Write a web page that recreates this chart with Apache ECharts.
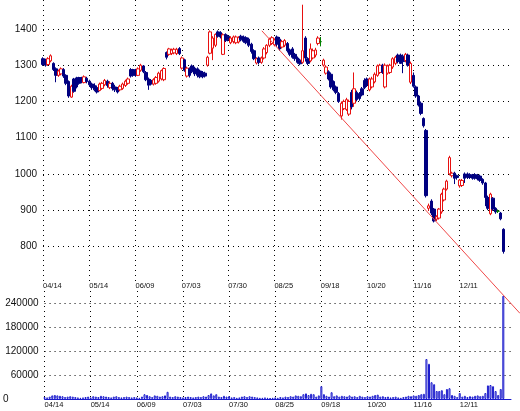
<!DOCTYPE html>
<html><head><meta charset="utf-8">
<script src="https://cdn.jsdelivr.net/npm/echarts@6/dist/echarts.min.js"></script>
<style>html,body{margin:0;padding:0;background:#fff}#c{width:520px;height:411px}</style>
</head><body><div id="c"></div>
<script>
// trading days (2015/04 .. 2016/01)
const tradingDays = [
 ['04',[14,15,16,17,20,21,22,23,24,27,28,30]],
 ['05',[1,7,8,11,12,13,14,15,18,19,20,21,22,25,26,27,28,29]],
 ['06',[1,2,3,4,5,8,9,10,11,12,15,16,17,18,19,22,23,24,25,26,29,30]],
 ['07',[1,2,3,6,7,8,9,10,13,14,15,16,17,21,22,23,24,27,28,29,30,31]],
 ['08',[3,4,5,6,7,10,11,12,13,14,17,18,19,20,21,24,25,26,27,28,31]],
 ['09',[1,2,3,4,7,8,9,10,11,14,15,16,17,18,24,25,28,29,30]],
 ['10',[1,2,5,6,7,8,9,13,14,15,16,19,20,21,22,23,26,27,28,29,30]],
 ['11',[2,4,5,6,9,10,11,12,13,16,17,18,19,20,24,25,26,27,30]],
 ['12',[1,2,3,4,7,8,9,10,11,14,15,16,17,18,21,22,24,25,28,29,30]],
 ['01',[4,5,6,7,8,12,13,14]]
];
const categories = [];
tradingDays.forEach(([m, ds]) => ds.forEach(d => categories.push(m + '/' + String(d).padStart(2,'0'))));

const tickLabels = ['04/14','05/14','06/09','07/03','07/30','08/25','09/18','10/20','11/16','12/11'];
const priceTicks = [800, 900, 1000, 1100, 1200, 1300, 1400];
const volumeTicks = [0, 60000, 120000, 180000, 240000];

const opens = [1318,1312,1302,1312,1305,1290,1272,1276,1288,1272,1255,1212,1262,1265,1266,1266,1252,1264,1256,1248,
1244,1238,1230,1236,1246,1256,1238,1250,1240,1236,1232,1236,1244,1250,1288,1288,1286,1272,1286,1298,
1280,1262,1258,1248,1250,1256,1262,1260,1335,1330,1332,1334,1332,1346,1292,1315,1270,1290,1298,1292,
1290,1284,1280,1278,1300,1333,1347,1355,1392,1390,1330,1385,1380,1362,1365,1362,1364,1380,1378,1376,
1372,1358,1340,1306,1320,1308,1320,1335,1355,1360,1356,1378,1372,1350,1355,1360,1342,1345,1330,1320,
1314,1308,1375,1318,1312,1320,1328,1360,1365,1300,1278,1282,1275,1255,1240,1222,1160,1180,1178,1165,
1225,1195,1225,1222,1235,1258,1262,1232,1240,1254,1272,1280,1300,1240,1278,1280,1295,1305,1328,1328,
1325,1313,1328,1253,1272,1240,1215,1195,1153,1120,905,925,903,875,878,895,928,958,1000,995,
1002,995,967,968,1000,1000,998,996,998,996,994,985,975,935,890,933,905,897,892,847];
const closes = [1302,1300,1318,1326,1288,1272,1284,1290,1270,1250,1215,1242,1228,1240,1250,1256,1268,1255,1246,1238,
1232,1226,1248,1250,1258,1244,1250,1236,1232,1226,1242,1248,1256,1262,1270,1272,1272,1290,1300,1282,
1260,1245,1248,1260,1266,1278,1285,1291,1322,1345,1342,1344,1344,1332,1320,1286,1292,1272,1282,1276,
1272,1268,1268,1270,1322,1392,1375,1385,1380,1378,1384,1368,1370,1375,1378,1378,1376,1370,1366,1362,
1355,1338,1318,1318,1308,1320,1345,1355,1372,1376,1370,1358,1345,1365,1368,1340,1330,1322,1318,1308,
1304,1340,1320,1305,1345,1340,1342,1375,1365,1314,1295,1262,1240,1232,1225,1200,1195,1200,1205,1200,
1185,1235,1205,1208,1218,1238,1245,1262,1262,1275,1298,1300,1280,1300,1298,1300,1318,1322,1310,1305,
1310,1330,1300,1305,1242,1215,1190,1167,1133,940,912,892,870,882,903,944,958,980,1045,1002,
988,990,983,982,988,990,990,988,988,986,982,975,935,905,944,903,895,897,876,786];
const lows = [1298,1296,1298,1308,1284,1253,1268,1272,1265,1245,1210,1210,1224,1236,1246,1250,1250,1250,1240,1232,
1228,1222,1228,1232,1242,1238,1234,1230,1226,1222,1228,1232,1240,1246,1266,1268,1268,1270,1282,1278,
1256,1232,1244,1244,1246,1252,1258,1256,1316,1326,1328,1330,1328,1328,1288,1282,1266,1266,1278,1270,
1266,1264,1264,1266,1296,1330,1314,1350,1376,1374,1328,1364,1366,1358,1360,1358,1360,1366,1362,1358,
1350,1332,1314,1302,1302,1304,1316,1330,1350,1356,1352,1350,1340,1346,1350,1335,1325,1318,1312,1304,
1300,1304,1310,1300,1308,1316,1322,1355,1352,1296,1274,1258,1235,1228,1220,1196,1150,1176,1174,1160,
1178,1185,1200,1202,1214,1234,1240,1228,1236,1250,1268,1276,1276,1236,1274,1276,1290,1300,1305,1305,
1278,1308,1296,1248,1238,1210,1186,1162,1128,935,898,886,866,870,874,890,924,954,996,990,
972,984,962,964,975,986,986,984,984,982,978,970,911,900,886,898,890,892,872,780];
const highs = [1322,1318,1322,1330,1308,1294,1288,1294,1292,1275,1258,1246,1265,1268,1268,1268,1272,1268,1260,1252,
1250,1244,1252,1254,1262,1260,1256,1254,1246,1240,1246,1252,1260,1266,1292,1290,1290,1294,1304,1300,
1284,1266,1262,1264,1270,1282,1288,1294,1338,1348,1346,1348,1348,1350,1324,1318,1296,1294,1302,1296,
1294,1288,1284,1282,1326,1396,1380,1388,1396,1394,1388,1388,1384,1380,1382,1382,1380,1384,1382,1380,
1376,1362,1344,1322,1324,1324,1350,1358,1376,1380,1374,1382,1378,1370,1372,1364,1346,1350,1334,1324,
1318,1467,1380,1322,1360,1346,1348,1380,1378,1318,1300,1286,1280,1258,1244,1226,1200,1205,1210,1205,
1232,1280,1230,1226,1240,1264,1266,1266,1268,1280,1302,1304,1304,1305,1302,1304,1322,1326,1332,1332,
1330,1334,1332,1310,1280,1244,1218,1200,1156,1124,918,930,906,886,906,948,962,984,1050,1006,
1006,998,986,986,1004,1004,1002,1000,1002,1000,998,988,978,940,948,936,908,902,895,850];
const volumes = [5000,4000,6000,9000,10000,9000,8000,7000,5000,6000,
7000,6000,5000,4000,3000,4000,5000,6000,4000,7000,
6000,5000,8000,7000,6000,5000,4000,6000,7000,5000,
4000,5000,6000,5000,4000,5000,4000,3000,6000,12000,
10000,7000,5000,9000,8000,6000,7000,9000,18000,6000,
5000,7000,6000,5000,4000,5000,6000,5000,4000,5000,
6000,5000,7000,6000,10000,14000,9000,12000,6000,5000,
8000,6000,7000,4000,5000,3000,4000,6000,7000,5000,
7000,6000,5000,4000,3000,3000,4000,3000,2000,3000,
4000,3000,5000,4000,6000,5000,7000,6000,9000,8000,
7000,12000,14000,10000,13000,12000,6000,9000,32000,12000,
8000,6000,17000,7000,9000,6000,8000,7000,6000,9000,
6000,7000,5000,8000,6000,5000,7000,6000,8000,10000,
11000,6000,7000,5000,6000,4000,5000,6000,4000,3000,
5000,6000,8000,7000,9000,8000,10000,12000,13000,100000,
88000,42000,37000,20000,20000,22000,12000,25000,27000,10000,
8000,5000,15000,6000,8000,5000,7000,6000,8000,9000,
7000,8000,15000,34000,35000,32000,20000,10000,25000,258000];
// trend line endpoints: [category index, price]
const trendLine = [[85.1, 1395], [185.5, 615]];

const candles = opens.map((o, i) => [o, closes[i], lows[i], highs[i]]);
const dotted = {type: [1, 4], color: '#000', width: 1};
const isTick = (i, v) => tickLabels.indexOf(v) >= 0;
const font = 'Liberation Sans, Arial, sans-serif';

// price scale: 0.3623 px per yen; day step = 468 / 182 px
const pxPerYen = 282.6 / 780;
const dayStep = 468 / (categories.length - 1);

const chart = echarts.init(document.getElementById('c'), null, {renderer: 'canvas'});
chart.setOption({
  animation: false,
  backgroundColor: '#fff',
  grid: [
    {left: 43, right: 9, top: 0, height: 282.6},
    {left: 43, right: 9, top: 291, height: 108},
    {left: 43, right: 0, top: 0, bottom: 0}
  ],
  xAxis: [
    {type: 'category', gridIndex: 0, data: categories, boundaryGap: false,
     axisLine: {show: false}, axisTick: {show: false},
     axisLabel: {interval: isTick, align: 'left', fontSize: 7.5, margin: -1, color: '#111', fontFamily: font},
     splitLine: {show: true, interval: isTick, lineStyle: dotted}},
    {type: 'category', gridIndex: 1, data: categories, boundaryGap: false,
     axisLine: {show: true, lineStyle: {color: '#1a1acc', width: 1}}, axisTick: {show: false},
     axisLabel: {interval: isTick, align: 'left', fontSize: 7.5, margin: 2, color: '#111', fontFamily: font},
     splitLine: {show: true, interval: isTick, lineStyle: dotted}},
    {type: 'value', gridIndex: 2, min: 0, max: 477 / dayStep, show: false}
  ],
  yAxis: [
    {type: 'value', gridIndex: 0, min: 700, max: 1480, interval: 100,
     axisLine: {show: false}, axisTick: {show: false},
     axisLabel: {fontSize: 10, color: '#111', margin: 6, fontFamily: font, showMinLabel: false, showMaxLabel: false,
       formatter: v => priceTicks.indexOf(v) >= 0 ? String(v) : ''},
     splitLine: {show: true, lineStyle: dotted, showMinLine: false, showMaxLine: false}},
    {type: 'value', gridIndex: 1, min: 0, max: 270000, interval: 60000,
     axisLine: {show: false}, axisTick: {show: false},
     axisLabel: {fontSize: 10, color: '#111', margin: 6, fontFamily: font, showMaxLabel: false,
       formatter: v => volumeTicks.indexOf(v) < 0 ? '' : (v === 0 ? '{z|0}' : String(v)),
       rich: {z: {padding: [0, 30, 0, 0], fontSize: 10, color: '#111', fontFamily: font}}},
     splitLine: {show: true, lineStyle: dotted, showMinLine: false, showMaxLine: false}},
    {type: 'value', gridIndex: 2, min: 1480 - 411 / pxPerYen, max: 1480, show: false}
  ],
  series: [
    {type: 'candlestick', xAxisIndex: 0, yAxisIndex: 0, data: candles, barWidth: 3,
     itemStyle: {color: '#ffffff', color0: '#000080', borderColor: '#e81010', borderColor0: '#000080',
       borderColorDoji: '#008000', borderWidth: 1}},
    {type: 'bar', xAxisIndex: 1, yAxisIndex: 1, data: volumes, barWidth: 2,
     itemStyle: {color: '#ffffff', borderColor: '#1a1acc', borderWidth: 1}},
    {type: 'line', xAxisIndex: 2, yAxisIndex: 2, data: trendLine, showSymbol: false, clip: false, z: 10,
     lineStyle: {color: '#f04848', width: 1}, silent: true}
  ]
});
</script></body></html>
